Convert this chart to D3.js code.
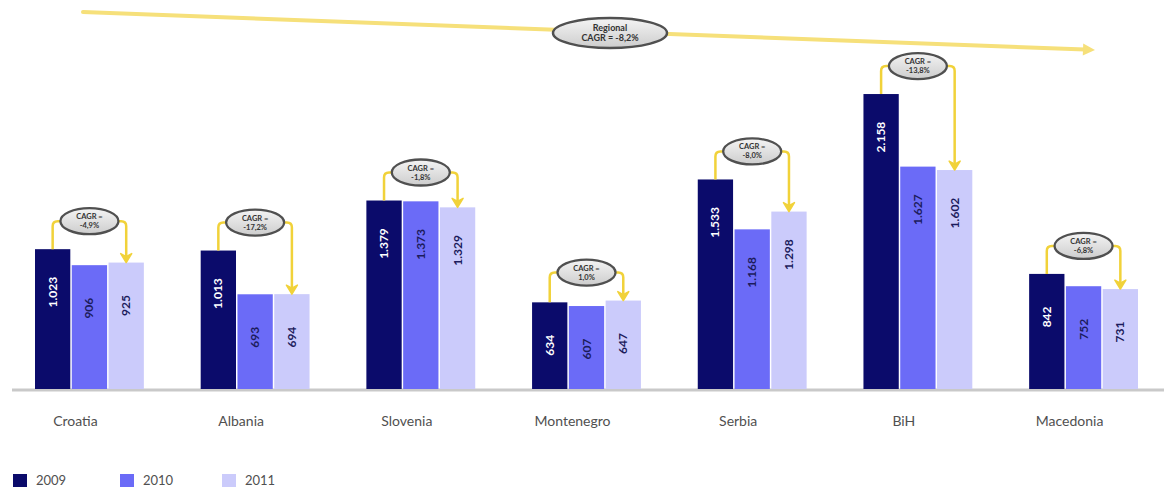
<!DOCTYPE html>
<html>
<head>
<meta charset="utf-8">
<script src="https://cdn.jsdelivr.net/npm/d3@7"></script>
<style>
  html, body { margin: 0; padding: 0; background: #fff; }
  svg { display: block; }
</style>
</head>
<body>
<svg id="chart" width="1164" height="491"></svg>
<script>
// ---- data ----
const countries = ["Croatia", "Albania", "Slovenia", "Montenegro", "Serbia", "BiH", "Macedonia"];
const years = ["2009", "2010", "2011"];
const values2009 = [1023, 1013, 1379, 634, 1533, 2158, 842];
const values2010 = [906, 693, 1373, 607, 1168, 1627, 752];
const values2011 = [925, 694, 1329, 647, 1298, 1602, 731];
const cagrLabels = ["-4,9%", "-17,2%", "-1,8%", "1,0%", "-8,0%", "-13,8%", "-6,8%"];
const regionalCagr = "-8,2%";

// ---- build ----
const series = { "2009": values2009, "2010": values2010, "2011": values2011 };
const colors = { "2009": "#0b0b6b", "2010": "#6b6bf7", "2011": "#cbcbfb" };
const labelColors = { "2009": "#ffffff", "2010": "#1c1c5c", "2011": "#1c1c5c" };
const rows = countries.map((c, i) => ({
  country: c, cagr: cagrLabels[i],
  vals: years.map(y => ({ year: y, value: series[y][i] }))
}));

const svg = d3.select("#chart");
const baseY = 389;
const x0 = d3.scaleBand().domain(countries).range([35, 1138]).paddingInner(0.343).paddingOuter(0);
const x1 = d3.scaleBand().domain(years).range([0, x0.bandwidth()]).paddingInner(0.04);
const y = d3.scaleLinear().domain([0, 2200]).range([baseY, 88.3]);
const fmt = d3.formatLocale({ decimal: ",", thousands: ".", grouping: [3], currency: ["", ""] }).format(",d");

const defs = svg.append("defs");
const grad = defs.append("linearGradient").attr("id", "ell").attr("x1", 0).attr("y1", 0).attr("x2", 0).attr("y2", 1);
grad.append("stop").attr("offset", "0%").attr("stop-color", "#f4f4f4");
grad.append("stop").attr("offset", "100%").attr("stop-color", "#cdcdcd");

// regional arrow
const regStart = [83, 12], regEnd = [1095, 50];
const yellowPale = "#f6e07a";
svg.append("line").attr("x1", regStart[0]).attr("y1", regStart[1])
  .attr("x2", regEnd[0] - 10).attr("y2", regEnd[1] - 0.4)
  .attr("stroke", yellowPale).attr("stroke-width", 4).attr("stroke-linecap", "round");
{
  const ang = Math.atan2(regEnd[1] - regStart[1], regEnd[0] - regStart[0]);
  const L = 12, W = 6;
  const bx = regEnd[0] - L * Math.cos(ang), by = regEnd[1] - L * Math.sin(ang);
  const px = -Math.sin(ang) * W, py = Math.cos(ang) * W;
  svg.append("polygon")
    .attr("points", `${regEnd[0]},${regEnd[1]} ${bx + px},${by + py} ${bx - px},${by - py}`)
    .attr("fill", yellowPale);
}
const regC = [610, 33];
svg.append("ellipse").attr("cx", regC[0]).attr("cy", regC[1]).attr("rx", 57).attr("ry", 15)
  .attr("fill", "url(#ell)").attr("stroke", "#505050").attr("stroke-width", 2.5);
svg.append("text").attr("x", regC[0]).attr("y", regC[1] - 2).attr("text-anchor", "middle")
  .attr("font-family", "Lato, sans-serif").attr("font-weight", "bold").attr("font-size", 9).attr("fill", "#333")
  .text("Regional");
svg.append("text").attr("x", regC[0]).attr("y", regC[1] + 8).attr("text-anchor", "middle")
  .attr("font-family", "Lato, sans-serif").attr("font-weight", "bold").attr("font-size", 9).attr("fill", "#333")
  .text("CAGR = " + regionalCagr);

// axis baseline
svg.append("line").attr("x1", 12).attr("x2", 1164).attr("y1", baseY + 1).attr("y2", baseY + 1)
  .attr("stroke", "#c9c9c9").attr("stroke-width", 3);

// bars
const groups = svg.selectAll("g.grp").data(rows).join("g").attr("class", "grp")
  .attr("transform", d => `translate(${x0(d.country)},0)`);

groups.selectAll("rect").data(d => d.vals).join("rect")
  .attr("x", d => x1(d.year)).attr("width", x1.bandwidth())
  .attr("y", d => y(d.value)).attr("height", d => baseY - y(d.value))
  .attr("fill", d => colors[d.year]);

groups.selectAll("text.val").data(d => d.vals).join("text").attr("class", "val")
  .attr("transform", d => `translate(${x1(d.year) + x1.bandwidth() / 2 + 4},${y(d.value) + 43}) rotate(-90)`)
  .attr("text-anchor", "middle")
  .attr("font-family", "Lato, sans-serif").attr("font-weight", "bold").attr("font-size", 12)
  .attr("fill", d => labelColors[d.year])
  .text(d => fmt(d.value));

// CAGR connectors
const yellow = "#f1d23a";
groups.each(function(d) {
  const g = d3.select(this);
  const bw = x1.bandwidth();
  const lx = x1("2009") + bw / 2;
  const rx = x1("2011") + bw / 2;
  const cx = x1("2010") + bw / 2;
  const t09 = y(d.vals[0].value), t11 = y(d.vals[2].value);
  const top = Math.min(...d.vals.map(v => y(v.value)));
  const L = top - 28;
  const r = 5;
  g.append("path")
    .attr("d", `M${lx},${t09} V${L + r} Q${lx},${L} ${lx + r},${L} H${rx - r} Q${rx},${L} ${rx},${L + r} V${t11 - 6}`)
    .attr("fill", "none").attr("stroke", yellow).attr("stroke-width", 2.5);
  g.append("polygon")
    .attr("points", `${rx},${t11} ${rx - 5.5},${t11 - 9} ${rx},${t11 - 6} ${rx + 5.5},${t11 - 9}`)
    .attr("fill", yellow).attr("stroke", yellow).attr("stroke-width", 1.5).attr("stroke-linejoin", "round");
  g.append("ellipse").attr("cx", cx).attr("cy", L).attr("rx", 29).attr("ry", 13)
    .attr("fill", "url(#ell)").attr("stroke", "#505050").attr("stroke-width", 2.3);
  g.append("text").attr("x", cx).attr("y", L - 2).attr("text-anchor", "middle")
    .attr("font-family", "Lato, sans-serif").attr("font-weight", "bold").attr("font-size", 7.5).attr("fill", "#333")
    .text("CAGR =");
  g.append("text").attr("x", cx).attr("y", L + 7).attr("text-anchor", "middle")
    .attr("font-family", "Lato, sans-serif").attr("font-weight", "bold").attr("font-size", 7.5).attr("fill", "#333")
    .text(d.cagr);
});

// country labels
svg.selectAll("text.cat").data(countries).join("text").attr("class", "cat")
  .attr("x", c => x0(c) + x0.bandwidth() / 2 - 14).attr("y", 426)
  .attr("text-anchor", "middle")
  .attr("font-family", "Lato, sans-serif").attr("font-size", 14).attr("fill", "#505050")
  .text(c => c);

// legend
const legendX = [13, 120, 222];
const leg = svg.selectAll("g.leg").data(years).join("g").attr("class", "leg")
  .attr("transform", (d, i) => `translate(${legendX[i]},474)`);
leg.append("rect").attr("width", 14).attr("height", 13).attr("fill", d => colors[d]);
leg.append("text").attr("x", 23).attr("y", 11)
  .attr("font-family", "Lato, sans-serif").attr("font-size", 13).attr("fill", "#505050")
  .text(d => d);
</script>
</body>
</html>
